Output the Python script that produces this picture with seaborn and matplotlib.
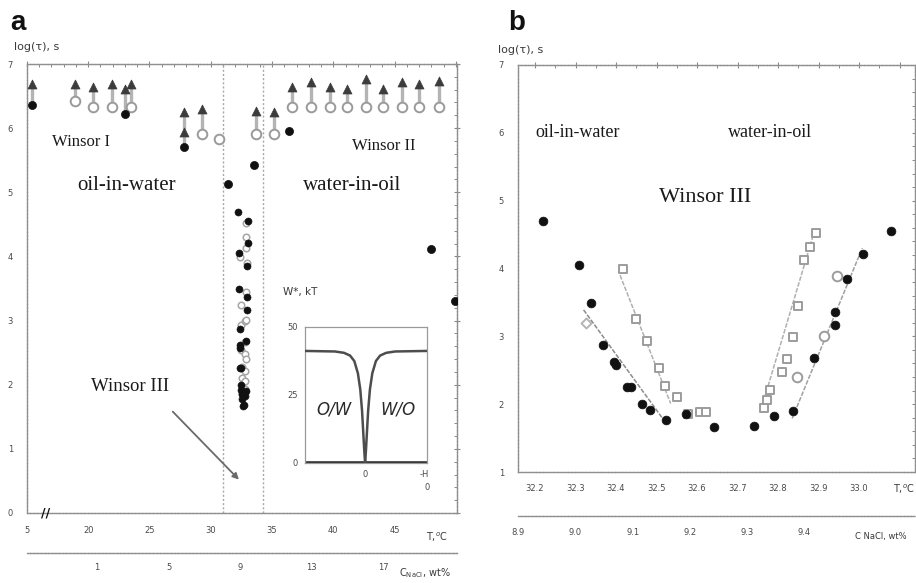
import numpy as np
import pandas as pd
import matplotlib
matplotlib.use("Agg")
import matplotlib.pyplot as plt
from matplotlib.ticker import MultipleLocator
import seaborn as sns

# ---------------- data: panel a ----------------
a_arrow_T    = [15.4, 18.9, 20.4, 21.9, 23.0, 23.5, 27.8, 29.3, 33.7, 35.2, 36.6, 38.2, 39.7, 41.1, 42.7, 44.1, 45.6, 47.0, 48.6]
a_arrow_base = [6.36, 6.42, 6.33, 6.33, 6.22, 6.33, 5.70, 5.91, 5.91, 5.91, 6.33, 6.33, 6.33, 6.33, 6.33, 6.33, 6.33, 6.33, 6.33]
a_arrow_tip  = [6.69, 6.69, 6.64, 6.69, 6.61, 6.69, 6.25, 6.30, 6.27, 6.25, 6.64, 6.72, 6.64, 6.61, 6.77, 6.61, 6.72, 6.69, 6.73]
a_tri2_T = [27.8]
a_tri2_y = [5.94]
a_open_T = [18.9, 20.4, 21.9, 23.5, 29.3, 30.7, 33.7, 35.2, 36.6, 38.2, 39.7, 41.1, 42.7, 44.1, 45.6, 47.0, 48.6]
a_open_y = [6.42, 6.33, 6.33, 6.33, 5.91, 5.83, 5.91, 5.91, 6.33, 6.33, 6.33, 6.33, 6.33, 6.33, 6.33, 6.33, 6.33]
a_fill_T = [15.4, 23.0, 27.8, 31.4, 33.5, 36.4, 48.0, 49.9]
a_fill_y = [6.36, 6.22, 5.70, 5.13, 5.42, 5.95, 4.11, 3.30]
a_region_T = [31.0, 34.3]

a_T_ticks = [15, 20, 25, 30, 35, 40, 45, 50]
a_T_labels = ["5", "20", "25", "30", "35", "40", "45", ""]
a_C_ticks = [1, 5, 9, 13, 17]
a_C_labels = ["1", "5", "9", "13", "17"]
a_y_ticks = [0, 1, 2, 3, 4, 5, 6, 7]

# inset: pair potential W*(H)
inset_x = [-1.0, -0.5, -0.35, -0.25, -0.18, -0.12, -0.08, -0.05, -0.03, -0.015, 0.0,
           0.015, 0.03, 0.05, 0.08, 0.12, 0.18, 0.25, 0.35, 0.5, 1.03]
inset_w = [41.2, 41.0, 40.5, 39.5, 37.5, 33.0, 27.0, 19.0, 11.0, 5.0, 0.0,
           5.0, 11.0, 19.0, 27.0, 33.0, 37.5, 39.5, 40.5, 41.0, 41.2]
inset_x_ticks = [0.0, 0.98]
inset_x_labels = ["0", "-H"]
inset_y_ticks = [0, 25, 50]

# ---------------- data: panel b ----------------
b_fill_T = [32.22, 32.309, 32.338, 32.367, 32.395, 32.40, 32.426, 32.436, 32.465, 32.485, 32.524,
            32.574, 32.642, 32.74, 32.789, 32.838, 32.888, 32.94, 32.94, 32.97, 33.01, 33.08]
b_fill_y = [4.70, 4.05, 3.49, 2.87, 2.62, 2.58, 2.26, 2.26, 2.00, 1.91, 1.77,
            1.86, 1.67, 1.68, 1.82, 1.90, 2.68, 3.17, 3.36, 3.85, 4.21, 4.55]
b_sqL_T = [32.418, 32.449, 32.477, 32.507, 32.521, 32.55, 32.578, 32.607, 32.622]
b_sqL_y = [3.99, 3.25, 2.93, 2.54, 2.27, 2.11, 1.86, 1.88, 1.88]
b_sqR_T = [32.766, 32.772, 32.78, 32.81, 32.822, 32.836, 32.85, 32.865, 32.88, 32.894]
b_sqR_y = [1.94, 2.06, 2.21, 2.48, 2.66, 2.99, 3.44, 4.13, 4.31, 4.52]
b_circ_T = [32.848, 32.913, 32.945]
b_circ_y = [2.40, 3.01, 3.89]
b_diam_T = [32.325]
b_diam_y = [3.19]
b_fit1_T, b_fit1_y = [32.32, 32.515], [3.39, 1.79]
b_fit2_T, b_fit2_y = [32.41, 32.535], [3.90, 2.01]
b_fit3_T, b_fit3_y = [32.758, 32.89], [1.92, 4.55]
b_fit4_T, b_fit4_y = [32.835, 33.008], [1.79, 4.30]

b_T_ticks = [32.2, 32.3, 32.4, 32.5, 32.6, 32.7, 32.8, 32.9, 33.0, 33.1]
b_T_labels = ["32.2", "32.3", "32.4", "32.5", "32.6", "32.7", "32.8", "32.9", "33.0", ""]
b_C_ticks = [8.9, 9.0, 9.1, 9.2, 9.3, 9.4, 9.5]
b_C_labels = ["8.9", "9.0", "9.1", "9.2", "9.3", "9.4", ""]
b_y_ticks = [1, 2, 3, 4, 5, 6, 7]

# ---------------- figure ----------------
sns.set_theme(style="white")
plt.rcParams['font.family'] = ['DejaVu Sans']
W, H = 916, 583
fig = plt.figure(figsize=(W / 100, H / 100), dpi=100)
fig.patch.set_facecolor("white")

def rect(l, t, r, b):
    return [l / W, 1 - b / H, (r - l) / W, (b - t) / H]

def ftxt(x, y, s, **kw):
    fig.text(x / W, 1 - y / H, s, **kw)

SPINE = "#8f8f8f"
TICKC = "#8a8a8a"
LABC = "#4a4a4a"
SERIF = ["Liberation Serif", "DejaVu Serif"]

def style(ax, pad_x, pad_y, xminor, yminor):
    for sp in ax.spines.values():
        sp.set_color(SPINE)
        sp.set_linewidth(1.0)
        sp.set_linestyle((0, (2, 0.6)))
    ax.tick_params(which="major", direction="inout", length=4, width=0.8, color=TICKC,
                   labelsize=6, labelcolor=LABC, top=True, right=True,
                   labeltop=False, labelright=False)
    ax.tick_params(which="minor", direction="in", length=2.2, width=0.7, color=TICKC,
                   top=True, right=True)
    ax.tick_params(axis="x", pad=pad_x)
    ax.tick_params(axis="y", pad=pad_y)
    ax.xaxis.set_minor_locator(MultipleLocator(xminor))
    ax.yaxis.set_minor_locator(MultipleLocator(yminor))
    ax.set_xlabel("")
    ax.set_ylabel("")

def sub_axis(l, r, y, xlim, ticks, labels, minor, pad):
    ax = fig.add_axes(rect(l, y - 0.5, r, y + 0.5))
    ax.set_xlim(*xlim)
    ax.set_ylim(0, 1)
    ax.set_yticks([])
    for s in ["top", "left", "right"]:
        ax.spines[s].set_visible(False)
    ax.spines["bottom"].set_color(SPINE)
    ax.spines["bottom"].set_linewidth(1.0)
    ax.spines["bottom"].set_linestyle((0, (2, 0.6)))
    ax.patch.set_alpha(0)
    ax.set_xticks(ticks)
    ax.set_xticklabels(labels)
    ax.xaxis.set_minor_locator(MultipleLocator(minor))
    ax.tick_params(which="major", direction="inout", length=4, width=0.8, color=TICKC,
                   labelsize=6, labelcolor=LABC, pad=pad)
    ax.tick_params(which="minor", direction="inout", length=2.5, width=0.7, color=TICKC)
    return ax

# ================= panel a =================
axA = fig.add_axes(rect(27, 64, 457, 513))
axA.set_xlim(15, 15 + 430 / 12.25)
axA.set_ylim(0, 7)

for t in a_region_T:
    axA.axvline(t, color="#a8a8a8", lw=1.0, ls=(0, (1.5, 1.5)), zorder=1)

axA.vlines(a_arrow_T, a_arrow_base, a_arrow_tip, color="#b4b4b4", lw=2.4, zorder=2)

df_open = pd.DataFrame({"T": a_open_T, "y": a_open_y})
sns.scatterplot(data=df_open, x="T", y="y", ax=axA, marker="o", s=48,
                facecolor="white", edgecolor="#9a9a9a", linewidth=1.4, zorder=3)
df_tri = pd.DataFrame({"T": a_arrow_T + a_tri2_T, "y": a_arrow_tip + a_tri2_y})
sns.scatterplot(data=df_tri, x="T", y="y", ax=axA, marker="^", s=42,
                color="#3c3c3c", edgecolor="#3c3c3c", linewidth=0.5, zorder=4)
df_fill = pd.DataFrame({"T": a_fill_T, "y": a_fill_y})
sns.scatterplot(data=df_fill, x="T", y="y", ax=axA, marker="o", s=34,
                color="#111111", edgecolor="#111111", linewidth=0.5, zorder=4)

# Winsor III cluster (same measurements as in panel b)
df_cl_o = pd.DataFrame({"T": b_sqL_T + b_sqR_T + b_circ_T, "y": b_sqL_y + b_sqR_y + b_circ_y})
sns.scatterplot(data=df_cl_o, x="T", y="y", ax=axA, marker="o", s=22,
                facecolor="white", edgecolor="#a5a5a5", linewidth=1.1, zorder=3)
df_cl_f = pd.DataFrame({"T": b_fill_T, "y": b_fill_y})
sns.scatterplot(data=df_cl_f, x="T", y="y", ax=axA, marker="o", s=26,
                color="#111111", edgecolor="#111111", linewidth=0.4, zorder=4)

axA.set_xticks(a_T_ticks)
axA.set_xticklabels(a_T_labels)
axA.set_yticks(a_y_ticks)
axA.set_yticklabels([str(v) for v in a_y_ticks])
style(axA, pad_x=7.5, pad_y=8, xminor=1, yminor=0.2)

# axis break mark
axA.text(16.5, 0, "//", fontsize=9, fontweight="bold", color="#111", ha="center",
         va="center", zorder=6)

axA.text(19.4, 5.78, "Winsor I", fontsize=12, family=SERIF, ha="center", va="center", color="#1a1a1a")
axA.text(23.1, 5.10, "oil-in-water", fontsize=15, family=SERIF, ha="center", va="center", color="#1a1a1a")
axA.text(44.1, 5.72, "Winsor II", fontsize=12, family=SERIF, ha="center", va="center", color="#1a1a1a")
axA.text(41.5, 5.10, "water-in-oil", fontsize=15, family=SERIF, ha="center", va="center", color="#1a1a1a")
axA.text(23.4, 1.97, "Winsor III", fontsize=13.5, family=SERIF, ha="center", va="center", color="#1a1a1a")
axA.annotate("", xy=(32.3, 0.52), xytext=(26.9, 1.58),
             arrowprops=dict(arrowstyle="-|>", color="#6a6a6a", lw=1.3,
                             mutation_scale=9, shrinkA=0, shrinkB=0))

sub_axis(27, 457, 552, (-2.92, 21.14), a_C_ticks, a_C_labels, 1, 5.5)

# inset
axI = fig.add_axes(rect(305, 327, 427, 463))
axI.set_xlim(-1.0, 1.03)
axI.set_ylim(0, 50)
axI.axhline(0, color="#2e2e2e", lw=2.6, zorder=2)
sns.lineplot(x=inset_x, y=inset_w, ax=axI, color="#4d4d4d", lw=1.8, sort=False, zorder=3)
for sp in axI.spines.values():
    sp.set_color("#9a9a9a")
    sp.set_linewidth(0.9)
axI.set_xticks(inset_x_ticks)
axI.set_xticklabels(inset_x_labels)
axI.set_yticks(inset_y_ticks)
axI.set_yticklabels([str(v) for v in inset_y_ticks])
axI.tick_params(length=0, labelsize=6, labelcolor=LABC, pad=5)
axI.text(-0.52, 19.5, "O/W", fontsize=12, style="italic", ha="center", va="center", color="#2a2a2a")
axI.text(0.55, 19.5, "W/O", fontsize=12, style="italic", ha="center", va="center", color="#2a2a2a")
ftxt(283, 292, "W*, kT", fontsize=7.5, color="#3a3a3a", ha="left", va="center")
ftxt(427, 488, "0", fontsize=6, color=LABC, ha="center", va="center")

# labels panel a
ftxt(18, 23, "a", fontsize=20, fontweight="bold", family=["Liberation Sans", "DejaVu Sans"],
     ha="center", va="center", color="#111")
ftxt(14, 47, "log(τ), s", fontsize=8, color="#3a3a3a", ha="left", va="center")
ftxt(426, 537, "T,$^{o}$C", fontsize=7, color="#3a3a3a", ha="left", va="center")
ftxt(399, 573, r"C$_{\rm NaCl}$, wt%", fontsize=7, color="#3a3a3a", ha="left", va="center")

# ================= panel b =================
axB = fig.add_axes(rect(518, 65, 915, 472))
axB.set_xlim(32.158, 32.158 + 397 / 405)
axB.set_ylim(1, 7)

for ft, fy, c in [(b_fit1_T, b_fit1_y, "#8c8c8c"), (b_fit2_T, b_fit2_y, "#b0b0b0"),
                  (b_fit3_T, b_fit3_y, "#b0b0b0"), (b_fit4_T, b_fit4_y, "#a0a0a0")]:
    sns.lineplot(x=ft, y=fy, ax=axB, color=c, lw=1.1, ls=(0, (3, 1)), sort=False, zorder=2)

df_sq = pd.DataFrame({"T": b_sqL_T + b_sqR_T, "y": b_sqL_y + b_sqR_y})
sns.scatterplot(data=df_sq, x="T", y="y", ax=axB, marker="s", s=40,
                facecolor="white", edgecolor="#9c9c9c", linewidth=1.4, zorder=3)
df_ci = pd.DataFrame({"T": b_circ_T, "y": b_circ_y})
sns.scatterplot(data=df_ci, x="T", y="y", ax=axB, marker="o", s=48,
                facecolor="white", edgecolor="#9c9c9c", linewidth=1.4, zorder=3)
df_di = pd.DataFrame({"T": b_diam_T, "y": b_diam_y})
sns.scatterplot(data=df_di, x="T", y="y", ax=axB, marker="D", s=26,
                facecolor="white", edgecolor="#b5b5b5", linewidth=1.4, zorder=3)
df_bf = pd.DataFrame({"T": b_fill_T, "y": b_fill_y})
sns.scatterplot(data=df_bf, x="T", y="y", ax=axB, marker="o", s=40,
                color="#111111", edgecolor="#111111", linewidth=0.5, zorder=4)

axB.set_xticks(b_T_ticks)
axB.set_xticklabels(b_T_labels)
axB.set_yticks(b_y_ticks)
axB.set_yticklabels([str(v) for v in b_y_ticks])
style(axB, pad_x=6.5, pad_y=8, xminor=0.05, yminor=0.2)

axB.text(32.305, 6.0, "oil-in-water", fontsize=13, family=SERIF, ha="center", va="center", color="#1a1a1a")
axB.text(32.78, 6.0, "water-in-oil", fontsize=13, family=SERIF, ha="center", va="center", color="#1a1a1a")
axB.text(32.62, 5.04, "Winsor III", fontsize=16, family=SERIF, ha="center", va="center", color="#1a1a1a")

sub_axis(518, 915, 515, (8.9, 8.9 + 397 / 573), b_C_ticks, b_C_labels, 0.05, 7)

ftxt(517, 23, "b", fontsize=20, fontweight="bold", family=["Liberation Sans", "DejaVu Sans"],
     ha="center", va="center", color="#111")
ftxt(498, 50, "log(τ), s", fontsize=8, color="#3a3a3a", ha="left", va="center")
ftxt(893, 489, "T,$^{o}$C", fontsize=7, color="#3a3a3a", ha="left", va="center")
ftxt(855, 537, "C NaCl, wt%", fontsize=6, color="#3a3a3a", ha="left", va="center")

fig.savefig("out.png", dpi=100, facecolor="white")
